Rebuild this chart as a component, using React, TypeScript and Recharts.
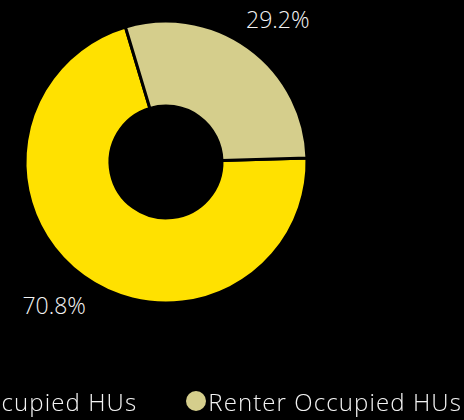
import { Legend, Pie, PieChart, Cell } from "recharts";

const CATEGORIES = ["Owner Occupied HUs", "Renter Occupied HUs"];
const SHARES = [70.8, 29.2];
const COLORS = ["#FFE100", "#D5CE8C"];

const FONT = "'Open Sans', Lato, sans-serif";
const CX = 166;
const CY = 162;
const OUTER = 141;

const data = CATEGORIES.map((name, i) => ({ name, value: SHARES[i] }));

const RADIAN = Math.PI / 180;

function renderLabel(props: any) {
  const { midAngle, value } = props;
  const x = CX + (OUTER + 50) * Math.cos(-midAngle * RADIAN);
  const y = CY + (OUTER + 36) * Math.sin(-midAngle * RADIAN);
  return (
    <text
      x={x}
      y={y}
      fill="#f4f4f4"
      fontSize={23}
      fontWeight={300}
      fontFamily={FONT}
      textAnchor="middle"
      dominantBaseline="central"
    >
      {`${value.toFixed(1)}%`}
    </text>
  );
}

function renderLegend(props: any) {
  const items = props.payload ?? [];
  return (
    <div
      style={{
        display: "flex",
        justifyContent: "flex-end",
        alignItems: "center",
        whiteSpace: "nowrap",
        width: 462,
        height: 30,
        gap: 49,
        fontFamily: FONT,
        fontSize: 24,
        fontWeight: 300,
        letterSpacing: 1.1,
        color: "#f4f4f4",
      }}
    >
      {items.map((item: any) => (
        <div key={item.value} style={{ display: "flex", alignItems: "center", flexShrink: 0 }}>
          <span
            style={{
              display: "inline-block",
              width: 20,
              height: 20,
              borderRadius: 10,
              background: item.color,
              marginRight: 2,
            }}
          />
          <span>{item.value}</span>
        </div>
      ))}
    </div>
  );
}

export default function App() {
  return (
    <div style={{ position: "fixed", left: 0, top: 0, width: 464, height: 420, background: "#000" }}>
      <PieChart width={464} height={420} margin={{ top: 0, right: 0, bottom: 0, left: 0 }}>
        <Pie
          data={data}
          dataKey="value"
          nameKey="name"
          cx={CX}
          cy={CY}
          innerRadius={56}
          outerRadius={OUTER}
          startAngle={1.6}
          endAngle={-358.4}
          stroke="#000"
          strokeWidth={3}
          label={renderLabel}
          labelLine={false}
          isAnimationActive={false}
        >
          {data.map((entry, i) => (
            <Cell key={entry.name} fill={COLORS[i]} />
          ))}
        </Pie>
        <Legend
          verticalAlign="bottom"
          content={renderLegend}
          wrapperStyle={{ bottom: 4, left: 0, width: 464 }}
        />
      </PieChart>
    </div>
  );
}
